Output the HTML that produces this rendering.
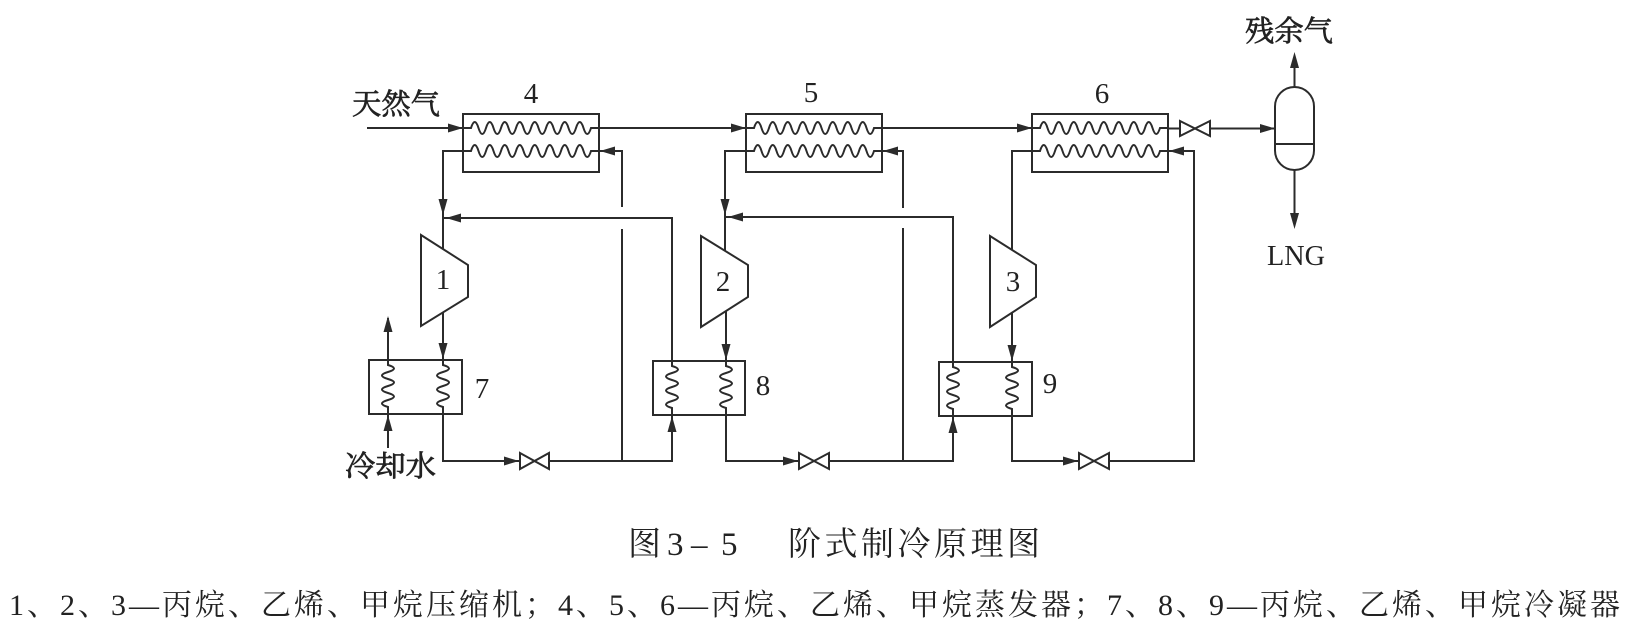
<!DOCTYPE html>
<html>
<head>
<meta charset="utf-8">
<style>
  html,body{margin:0;padding:0;background:#ffffff;}
  svg{display:block;}
  .ln{stroke:#2b2b2b;stroke-width:2;fill:none;}
  .bx{stroke:#2b2b2b;stroke-width:2;fill:#ffffff;}
  .ah{fill:#2b2b2b;stroke:none;}
  .cj{font-family:"Liberation Serif","Noto Serif CJK SC","Noto Sans CJK SC",serif;fill:#222;}
  .lbl{stroke:#222;stroke-width:0.7;}
  .num{font-family:"Liberation Serif",serif;fill:#222;font-size:29px;text-anchor:middle;}
</style>
</head>
<body>
<svg width="1632" height="635" viewBox="0 0 1632 635" xmlns="http://www.w3.org/2000/svg">
  <rect x="0" y="0" width="1632" height="635" fill="#ffffff"/>

  <!-- ========== Evaporators (4,5,6) ========== -->
  <rect class="bx" x="463" y="114" width="136" height="58"/>
  <rect class="bx" x="746" y="114" width="136" height="58"/>
  <rect class="bx" x="1032" y="114" width="136" height="58"/>

  <!-- coils box 4 -->
  <path class="ln" d="M463 128 H471 q3.75 -12 7.5 0 t7.5 0 t7.5 0 t7.5 0 t7.5 0 t7.5 0 t7.5 0 t7.5 0 t7.5 0 t7.5 0 t7.5 0 t7.5 0 t7.5 0 t7.5 0 t7.5 0 t7.5 0 H599"/>
  <path class="ln" d="M463 151 H471 q3.75 -12 7.5 0 t7.5 0 t7.5 0 t7.5 0 t7.5 0 t7.5 0 t7.5 0 t7.5 0 t7.5 0 t7.5 0 t7.5 0 t7.5 0 t7.5 0 t7.5 0 t7.5 0 t7.5 0 H599"/>
  <!-- coils box 5 -->
  <path class="ln" d="M746 128 H754 q3.75 -12 7.5 0 t7.5 0 t7.5 0 t7.5 0 t7.5 0 t7.5 0 t7.5 0 t7.5 0 t7.5 0 t7.5 0 t7.5 0 t7.5 0 t7.5 0 t7.5 0 t7.5 0 t7.5 0 H882"/>
  <path class="ln" d="M746 151 H754 q3.75 -12 7.5 0 t7.5 0 t7.5 0 t7.5 0 t7.5 0 t7.5 0 t7.5 0 t7.5 0 t7.5 0 t7.5 0 t7.5 0 t7.5 0 t7.5 0 t7.5 0 t7.5 0 t7.5 0 H882"/>
  <!-- coils box 6 -->
  <path class="ln" d="M1032 128 H1040 q3.75 -12 7.5 0 t7.5 0 t7.5 0 t7.5 0 t7.5 0 t7.5 0 t7.5 0 t7.5 0 t7.5 0 t7.5 0 t7.5 0 t7.5 0 t7.5 0 t7.5 0 t7.5 0 t7.5 0 H1168"/>
  <path class="ln" d="M1032 151 H1040 q3.75 -12 7.5 0 t7.5 0 t7.5 0 t7.5 0 t7.5 0 t7.5 0 t7.5 0 t7.5 0 t7.5 0 t7.5 0 t7.5 0 t7.5 0 t7.5 0 t7.5 0 t7.5 0 t7.5 0 H1168"/>

  <!-- natural gas main line -->
  <path class="ln" d="M367 128 H463"/>
  <path class="ln" d="M599 128 H746"/>
  <path class="ln" d="M882 128 H1032"/>
  <path class="ln" d="M1168 128.5 H1180"/>
  <path class="ln" d="M1210 128.5 H1275"/>
  <!-- valve top -->
  <path class="bx" d="M1180 121 L1210 136 L1210 121 L1180 136 Z"/>

  <!-- separator -->
  <rect class="bx" x="1275" y="87" width="39" height="83" rx="19.5" ry="19.5"/>
  <path class="ln" d="M1275 144 H1314"/>
  <path class="ln" d="M1294.5 87 V60"/>
  <path class="ln" d="M1294.5 170 V214"/>

  <!-- ========== Compressors ========== -->
  <path class="bx" d="M421 235 L468 265 L468 297 L421 326 Z"/>
  <path class="bx" d="M701 236 L748 265 L748 297 L701 327 Z"/>
  <path class="bx" d="M990 236 L1036 265 L1036 297 L990 327 Z"/>

  <!-- ========== Condensers (7,8,9) ========== -->
  <rect class="bx" x="369" y="360" width="93" height="54"/>
  <rect class="bx" x="653" y="361" width="92" height="54"/>
  <rect class="bx" x="939" y="362" width="93" height="54"/>

  <path class="ln" d="M388 360 v5 q12 3.5 0 7 t0 7 t0 7 t0 7 t0 7 t0 7 V414"/>
  <path class="ln" d="M443 360 v5 q12 3.5 0 7 t0 7 t0 7 t0 7 t0 7 t0 7 V414"/>
  <path class="ln" d="M672 361 v5 q12 3.5 0 7 t0 7 t0 7 t0 7 t0 7 t0 7 V415"/>
  <path class="ln" d="M726 361 v5 q12 3.5 0 7 t0 7 t0 7 t0 7 t0 7 t0 7 V415"/>
  <path class="ln" d="M953 362 v5 q12 3.5 0 7 t0 7 t0 7 t0 7 t0 7 t0 7 V416"/>
  <path class="ln" d="M1012 362 v5 q12 3.5 0 7 t0 7 t0 7 t0 7 t0 7 t0 7 V416"/>

  <!-- ========== Loop 1 (propane) ========== -->
  <path class="ln" d="M463 151 H443 V249"/>
  <path class="ln" d="M443 218 H672 V361"/>
  <path class="ln" d="M443 312 V360"/>
  <path class="ln" d="M388 360 V318"/>
  <path class="ln" d="M388 414 V448"/>
  <path class="ln" d="M443 414 V461 H520"/>
  <path class="ln" d="M549 461 H672 V415"/>
  <path class="ln" d="M622 461 V229"/>
  <path class="ln" d="M622 207 V151 H599"/>
  <path class="bx" d="M520 453 L549 469 L549 453 L520 469 Z"/>

  <!-- ========== Loop 2 (ethylene) ========== -->
  <path class="ln" d="M746 151 H725 V251"/>
  <path class="ln" d="M725 217 H953 V362"/>
  <path class="ln" d="M726 311 V361"/>
  <path class="ln" d="M726 415 V461 H799"/>
  <path class="ln" d="M829 461 H953 V416"/>
  <path class="ln" d="M903 461 V228"/>
  <path class="ln" d="M903 208 V151 H882"/>
  <path class="bx" d="M799 453 L829 469 L829 453 L799 469 Z"/>

  <!-- ========== Loop 3 (methane) ========== -->
  <path class="ln" d="M1032 151 H1012 V250"/>
  <path class="ln" d="M1012 312 V362"/>
  <path class="ln" d="M1012 416 V461 H1079"/>
  <path class="ln" d="M1109 461 H1194 V151 H1168"/>
  <path class="bx" d="M1079 453 L1109 469 L1109 453 L1079 469 Z"/>

  <!-- ========== Arrowheads ========== -->
  <!-- right -->
  <polygon class="ah" points="463,128 448,123.5 448,132.5"/>
  <polygon class="ah" points="746,128 731,123.5 731,132.5"/>
  <polygon class="ah" points="1032,128 1017,123.5 1017,132.5"/>
  <polygon class="ah" points="1275,128.5 1260,124 1260,133"/>
  <polygon class="ah" points="519,461 504,456.5 504,465.5"/>
  <polygon class="ah" points="798,461 783,456.5 783,465.5"/>
  <polygon class="ah" points="1078,461 1063,456.5 1063,465.5"/>
  <!-- left -->
  <polygon class="ah" points="600,151 615,146.5 615,155.5"/>
  <polygon class="ah" points="883,151 898,146.5 898,155.5"/>
  <polygon class="ah" points="1169,151 1184,146.5 1184,155.5"/>
  <polygon class="ah" points="446,218 461,213.5 461,222.5"/>
  <polygon class="ah" points="728,217 743,212.5 743,221.5"/>
  <!-- down -->
  <polygon class="ah" points="443,215 438.5,199 447.5,199"/>
  <polygon class="ah" points="725,215 720.5,199 729.5,199"/>
  <polygon class="ah" points="443,359 438.5,343 447.5,343"/>
  <polygon class="ah" points="726,360 721.5,344 730.5,344"/>
  <polygon class="ah" points="1012,361 1007.5,345 1016.5,345"/>
  <polygon class="ah" points="1294.5,229 1290,213 1299,213"/>
  <!-- up -->
  <polygon class="ah" points="388,316 383.5,332 392.5,332"/>
  <polygon class="ah" points="388,415 383.5,431 392.5,431"/>
  <polygon class="ah" points="672,416 667.5,432 676.5,432"/>
  <polygon class="ah" points="953,417 948.5,433 957.5,433"/>
  <polygon class="ah" points="1294.5,52 1290,68 1299,68"/>

  <!-- ========== Labels ========== -->
  <text class="cj lbl" x="352" y="114" font-size="29" textLength="88" lengthAdjust="spacingAndGlyphs">天然气</text>
  <text class="cj lbl" x="345" y="476" font-size="29" textLength="91" lengthAdjust="spacingAndGlyphs">冷却水</text>
  <text class="cj lbl" x="1245" y="41" font-size="29" textLength="88" lengthAdjust="spacingAndGlyphs">残余气</text>
  <text x="1267" y="265" font-family="Liberation Serif, serif" font-size="28" fill="#222" textLength="58" lengthAdjust="spacingAndGlyphs">LNG</text>

  <text class="num" x="531" y="103">4</text>
  <text class="num" x="811" y="102">5</text>
  <text class="num" x="1102" y="103">6</text>
  <text class="num" x="443" y="289">1</text>
  <text class="num" x="723" y="291">2</text>
  <text class="num" x="1013" y="291">3</text>
  <text class="num" x="482" y="398">7</text>
  <text class="num" x="763" y="395">8</text>
  <text class="num" x="1050" y="393">9</text>

  <!-- caption -->
  <text class="cj" x="628" y="555" font-size="33">图</text>
  <text x="667" y="555" font-family="Liberation Serif, serif" font-size="33" fill="#222">3</text>
  <text x="691" y="555" font-family="Liberation Serif, serif" font-size="33" fill="#222">–</text>
  <text x="721" y="555" font-family="Liberation Serif, serif" font-size="33" fill="#222">5</text>
  <text class="cj" x="788" y="555" font-size="33" textLength="252" lengthAdjust="spacing">阶式制冷原理图</text>

  <!-- legend line -->
  <text class="cj" x="9" y="615" font-size="30" textLength="1611" lengthAdjust="spacing">1、2、3—丙烷、乙烯、甲烷压缩机；4、5、6—丙烷、乙烯、甲烷蒸发器；7、8、9—丙烷、乙烯、甲烷冷凝器</text>
</svg>
</body>
</html>
